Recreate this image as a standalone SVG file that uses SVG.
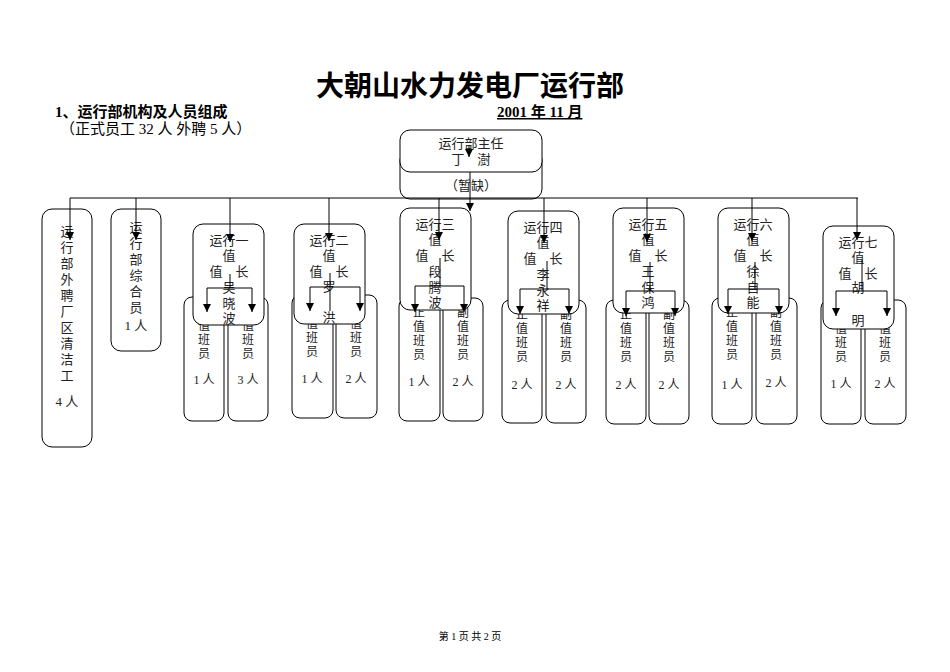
<svg xmlns="http://www.w3.org/2000/svg" width="950" height="672" viewBox="0 0 950 672">
<defs>
<marker id="ar" markerWidth="8" markerHeight="8" refX="8" refY="4" orient="auto" markerUnits="userSpaceOnUse"><path d="M0,0 L8,4 L0,8 z" fill="#000"/></marker>
<style>
text{font-family:"Liberation Serif","Noto Sans CJK SC",serif;fill:#000}
.t{font-size:13px;text-anchor:middle;fill:#222}
.s{font-size:12px;text-anchor:middle;fill:#222}
.b{fill:#fff;stroke:#000;stroke-width:1}
.c{fill:none;stroke:#000;stroke-width:1;marker-end:url(#ar)}
.l{fill:none;stroke:#000;stroke-width:1}
</style>
</defs>
<rect width="950" height="672" fill="#fff"/>
<text x="470" y="96" font-size="28" font-weight="bold" text-anchor="middle">大朝山水力发电厂运行部</text>
<text x="55" y="117" font-size="15" font-weight="bold">1、运行部机构及人员组成</text>
<text x="60" y="134" font-size="15">（正式员工 32 人  外聘 5 人）</text>
<text x="497" y="117" font-size="15" font-weight="bold" text-decoration="underline">2001 年 11 月</text>

<g id="assistant"><rect class="b" x="400" y="150" width="142" height="49" rx="10"/><text class="t" x="471" y="190">（暂缺）</text></g>
<g id="director"><rect class="b" x="400" y="130" width="142" height="42" rx="10"/><text class="t" x="471" y="148">运行部主任</text><text class="t" x="471" y="164">丁　澍</text></g>

<g id="cleaner"><rect class="b" x="42" y="209" width="50" height="238" rx="10"/>
<text class="t" x="67" y="236">运</text><text class="t" x="67" y="252">行</text><text class="t" x="67" y="268">部</text><text class="t" x="67" y="284">外</text><text class="t" x="67" y="300">聘</text><text class="t" x="67" y="316">厂</text><text class="t" x="67" y="332">区</text><text class="t" x="67" y="348">清</text><text class="t" x="67" y="364">洁</text><text class="t" x="67" y="380">工</text><text class="t" x="67" y="406">4 人</text></g>
<g id="clerk"><rect class="b" x="111" y="209" width="50" height="142" rx="10"/>
<text class="t" x="136" y="232">运</text><text class="t" x="136" y="248">行</text><text class="t" x="136" y="264">部</text><text class="t" x="136" y="280">综</text><text class="t" x="136" y="296">合</text><text class="t" x="136" y="312">员</text><text class="t" x="136" y="330">1 人</text></g>

<g id="shift1">
<rect class="b" x="184" y="297" width="40" height="124" rx="8"/><rect class="b" x="228" y="297" width="40" height="124" rx="8"/>
<text class="s" x="204" y="316">正</text><text class="s" x="204" y="330">值</text><text class="s" x="204" y="344">班</text><text class="s" x="204" y="358">员</text><text class="s" x="204" y="384">1 人</text>
<text class="s" x="248" y="316">副</text><text class="s" x="248" y="330">值</text><text class="s" x="248" y="344">班</text><text class="s" x="248" y="358">员</text><text class="s" x="248" y="384">3 人</text>
<rect class="b" x="193" y="224" width="71" height="101" rx="10"/>
<text class="t" x="229" y="245">运行一</text><text class="t" x="229" y="260">值</text><text class="t" x="229" y="276">值　长</text><text class="t" x="229" y="292">吴</text><text class="t" x="229" y="308">晓</text><text class="t" x="229" y="323">波</text>
</g>
<g id="shift2">
<rect class="b" x="292" y="295" width="41" height="123" rx="8"/><rect class="b" x="336" y="295" width="41" height="123" rx="8"/>
<text class="s" x="312" y="314">正</text><text class="s" x="312" y="328">值</text><text class="s" x="312" y="342">班</text><text class="s" x="312" y="356">员</text><text class="s" x="312" y="383">1 人</text>
<text class="s" x="356" y="314">副</text><text class="s" x="356" y="328">值</text><text class="s" x="356" y="342">班</text><text class="s" x="356" y="356">员</text><text class="s" x="356" y="383">2 人</text>
<rect class="b" x="294" y="224" width="71" height="100" rx="10"/>
<text class="t" x="329" y="245">运行二</text><text class="t" x="329" y="260">值</text><text class="t" x="329" y="276">值　长</text><text class="t" x="329" y="291">罗</text><text class="t" x="329" y="322">洪</text>
</g>
<g id="shift3">
<rect class="b" x="399" y="298" width="41" height="123" rx="8"/><rect class="b" x="443" y="298" width="40" height="123" rx="8"/>
<text class="s" x="419" y="317">正</text><text class="s" x="419" y="331">值</text><text class="s" x="419" y="345">班</text><text class="s" x="419" y="359">员</text><text class="s" x="419" y="386">1 人</text>
<text class="s" x="463" y="317">副</text><text class="s" x="463" y="331">值</text><text class="s" x="463" y="345">班</text><text class="s" x="463" y="359">员</text><text class="s" x="463" y="386">2 人</text>
<rect class="b" x="400" y="208" width="71" height="102" rx="10"/>
<text class="t" x="435" y="229">运行三</text><text class="t" x="435" y="244">值</text><text class="t" x="435" y="260">值　长</text><text class="t" x="435" y="276">段</text><text class="t" x="435" y="292">腾</text><text class="t" x="435" y="307">波</text>
</g>
<g id="shift4">
<rect class="b" x="502" y="300" width="40" height="123" rx="8"/><rect class="b" x="546" y="300" width="40" height="123" rx="8"/>
<text class="s" x="522" y="319">正</text><text class="s" x="522" y="333">值</text><text class="s" x="522" y="347">班</text><text class="s" x="522" y="361">员</text><text class="s" x="522" y="389">2 人</text>
<text class="s" x="566" y="319">副</text><text class="s" x="566" y="333">值</text><text class="s" x="566" y="347">班</text><text class="s" x="566" y="361">员</text><text class="s" x="566" y="389">2 人</text>
<rect class="b" x="508" y="211" width="71" height="103" rx="10"/>
<text class="t" x="543" y="232">运行四</text><text class="t" x="543" y="247">值</text><text class="t" x="543" y="263">值　长</text><text class="t" x="543" y="279">李</text><text class="t" x="543" y="295">永</text><text class="t" x="543" y="310">祥</text>
</g>
<g id="shift5">
<rect class="b" x="606" y="300" width="40" height="124" rx="8"/><rect class="b" x="649" y="300" width="40" height="124" rx="8"/>
<text class="s" x="626" y="319">正</text><text class="s" x="626" y="333">值</text><text class="s" x="626" y="347">班</text><text class="s" x="626" y="361">员</text><text class="s" x="626" y="389">2 人</text>
<text class="s" x="669" y="319">副</text><text class="s" x="669" y="333">值</text><text class="s" x="669" y="347">班</text><text class="s" x="669" y="361">员</text><text class="s" x="669" y="389">2 人</text>
<rect class="b" x="613" y="208" width="71" height="105" rx="10"/>
<text class="t" x="648" y="229">运行五</text><text class="t" x="648" y="244">值</text><text class="t" x="648" y="260">值　长</text><text class="t" x="648" y="276">王</text><text class="t" x="648" y="292">保</text><text class="t" x="648" y="307">鸿</text>
</g>
<g id="shift6">
<rect class="b" x="712" y="298" width="40" height="126" rx="8"/><rect class="b" x="756" y="298" width="41" height="126" rx="8"/>
<text class="s" x="732" y="317">正</text><text class="s" x="732" y="331">值</text><text class="s" x="732" y="345">班</text><text class="s" x="732" y="359">员</text><text class="s" x="732" y="389">1 人</text>
<text class="s" x="776" y="317">副</text><text class="s" x="776" y="331">值</text><text class="s" x="776" y="345">班</text><text class="s" x="776" y="359">员</text><text class="s" x="776" y="387">2 人</text>
<rect class="b" x="718" y="208" width="71" height="105" rx="10"/>
<text class="t" x="753" y="229">运行六</text><text class="t" x="753" y="244">值</text><text class="t" x="753" y="260">值　长</text><text class="t" x="753" y="276">徐</text><text class="t" x="753" y="292">自</text><text class="t" x="753" y="307">能</text>
</g>
<g id="shift7">
<rect class="b" x="821" y="300" width="40" height="124" rx="8"/><rect class="b" x="865" y="300" width="41" height="124" rx="8"/>
<text class="s" x="841" y="319">正</text><text class="s" x="841" y="333">值</text><text class="s" x="841" y="347">班</text><text class="s" x="841" y="361">员</text><text class="s" x="841" y="388">1 人</text>
<text class="s" x="885" y="319">副</text><text class="s" x="885" y="333">值</text><text class="s" x="885" y="347">班</text><text class="s" x="885" y="361">员</text><text class="s" x="885" y="388">2 人</text>
<rect class="b" x="823" y="226" width="71" height="103" rx="10"/>
<text class="t" x="858" y="247">运行七</text><text class="t" x="858" y="262">值</text><text class="t" x="858" y="278">值　长</text><text class="t" x="858" y="292">胡</text><text class="t" x="858" y="325">明</text>
</g>

<g id="connectors">
<path class="c" d="M469,146 V157"/>
<path class="c" d="M470,172 V211"/>
<path class="l" d="M70,198 H858"/>
<path class="c" d="M70,198 V240"/>
<path class="c" d="M136,198 V240"/>
<path class="c" d="M230,198 V242"/>
<path class="c" d="M329,198 V241"/>
<path class="c" d="M439,198 V240"/>
<path class="c" d="M544,198 V243"/>
<path class="c" d="M647,198 V242"/>
<path class="c" d="M752,198 V241"/>
<path class="c" d="M857,198 V240"/>
<path class="l" d="M230,274 V288"/><path class="c" d="M207,288 V312"/><path class="c" d="M252,288 V312"/><path class="l" d="M207,288 H252"/>
<path class="l" d="M330,273 V311"/><path class="c" d="M310,287 V311"/><path class="c" d="M360,287 V311"/><path class="l" d="M310,287 H360"/>
<path class="l" d="M440,258 V286"/><path class="c" d="M415,286 V312"/><path class="c" d="M464,286 V312"/><path class="l" d="M415,286 H464"/>
<path class="l" d="M547,261 V289"/><path class="c" d="M520,289 V314"/><path class="c" d="M569,289 V314"/><path class="l" d="M520,289 H569"/>
<path class="l" d="M650,262 V291"/><path class="c" d="M626,291 V316"/><path class="c" d="M675,291 V316"/><path class="l" d="M626,291 H675"/>
<path class="l" d="M755,262 V289"/><path class="c" d="M728,289 V314"/><path class="c" d="M779,289 V314"/><path class="l" d="M728,289 H779"/>
<path class="l" d="M862,260 V291"/><path class="c" d="M836,291 V316"/><path class="c" d="M887,291 V316"/><path class="l" d="M836,291 H887"/>
</g>
<text x="470" y="640" font-size="10" text-anchor="middle">第 1 页 共 2 页</text>
</svg>
